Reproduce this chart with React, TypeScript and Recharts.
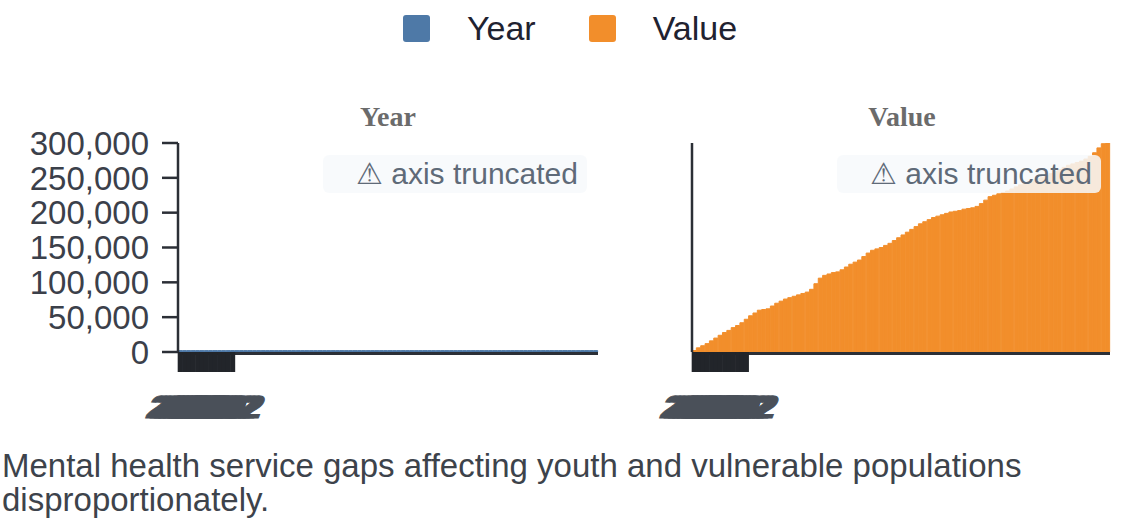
import React from "react";
import { BarChart, Bar, XAxis, YAxis } from "recharts";

// quarterly observations, one entry per bar
const years = [
  2000, 2000, 2000, 2000, 2001, 2001, 2001, 2001, 2002, 2002, 2002, 2002,
  2003, 2003, 2003, 2003, 2004, 2004, 2004, 2004, 2005, 2005, 2005, 2005,
  2006, 2006, 2006, 2006, 2007, 2007, 2007, 2007, 2008, 2008, 2008, 2008,
  2009, 2009, 2009, 2009, 2010, 2010, 2010, 2010, 2011, 2011, 2011, 2011,
  2012, 2012, 2012, 2012, 2013, 2013, 2013, 2013, 2014, 2014, 2014, 2014,
  2015, 2015, 2015, 2015, 2016, 2016, 2016, 2016, 2017, 2017, 2017, 2017,
  2018, 2018, 2018, 2018, 2019, 2019, 2019, 2019, 2020, 2020, 2020, 2020,
  2021, 2021, 2021, 2021, 2022, 2022, 2022, 2022, 2023, 2023, 2023, 2023,
];

const values = [
  2000, 6000, 9000, 12000, 16000, 20000, 24000, 28000, 31000, 35000, 38000, 42000,
  47000, 52000, 56000, 60000, 61000, 62000, 66000, 70000, 73000, 76000, 78000, 80000,
  82000, 84000, 86000, 90000, 98000, 106000, 110000, 112000, 114000, 115000, 118000, 122000,
  126000, 129000, 132000, 137000, 142000, 146000, 148000, 150000, 153000, 156000, 160000, 164000,
  168000, 172000, 176000, 180000, 184000, 187000, 190000, 193000, 195000, 197000, 199000, 201000,
  202000, 203000, 205000, 206000, 207000, 209000, 213000, 218000, 223000, 225000, 227000, 229000,
  231000, 234000, 237000, 240000, 242000, 244000, 247000, 249000, 251000, 253000, 256000, 259000,
  262000, 265000, 268000, 270000, 272000, 274000, 277000, 281000, 286000, 293000, 299000, 306000,
];

const yTicks = [0, 50000, 100000, 150000, 200000, 250000, 300000];
const yMax = 300000;

const seriesNames = ["Year", "Value"];
const seriesColors = ["#4e79a7", "#f28e2b"];

const caption =
  "Mental health service gaps affecting youth and vulnerable populations disproportionately.";

const data = years.map((y, i) => ({ idx: i, Year: y, Value: values[i] }));

const SANS = '"Liberation Sans", Arial, sans-serif';
const SERIF = '"Liberation Serif", "Times New Roman", serif';
const AXIS = "#2b2f36";

// the crowded category ticks pile up on each other near the origin
const CrowdedTick = (props: any) => {
  const { x, y, index } = props;
  if (index > 12) return null;
  return (
    <g>
      <line x1={x} y1={y} x2={x} y2={y + 20} stroke="#22252a" strokeWidth={5} />
      {index <= 10 && (
        <text
          transform={`translate(${x},${y + 66}) skewX(-20)`}
          textAnchor="middle"
          fontSize={32}
          fontWeight="bold"
          fontFamily={SANS}
          fill="#4a5059"
          stroke="#4a5059"
          strokeWidth={1}
        >
          {years[index]}
        </text>
      )}
    </g>
  );
};

const Badge = ({ left }: { left: number }) => (
  <div
    style={{
      position: "absolute",
      left,
      top: 155,
      width: 264,
      height: 38,
      boxSizing: "border-box",
      paddingRight: 9,
      borderRadius: 6,
      background: "rgba(247,249,251,0.85)",
      color: "#5f6a78",
      fontFamily: SANS,
      fontSize: 30,
      lineHeight: "38px",
      textAlign: "right",
      whiteSpace: "nowrap",
    }}
  >
    ⚠ axis truncated
  </div>
);

const Title = ({ text, center }: { text: string; center: number }) => (
  <div
    style={{
      position: "absolute",
      left: center - 100,
      width: 200,
      top: 103,
      textAlign: "center",
      fontFamily: SERIF,
      fontWeight: "bold",
      fontSize: 28,
      lineHeight: "28px",
      color: "#6b6b6b",
    }}
  >
    {text}
  </div>
);

const Panel = ({ series, color, left, width, yWidth, showTicks }: any) => (
  <div style={{ position: "absolute", left, top: 0 }}>
    <BarChart
      width={width}
      height={440}
      data={data}
      margin={{ top: 143, right: 10, left: 0, bottom: 18 }}
      barCategoryGap={0}
      barGap={0}
    >
      <XAxis
        dataKey="idx"
        height={70}
        interval={0}
        tickLine={false}
        tickSize={0}
        tickMargin={0}
        axisLine={{ stroke: AXIS, strokeWidth: 3, transform: "translate(0,1.5)" }}
        tick={<CrowdedTick />}
      />
      <YAxis
        width={yWidth}
        domain={[0, yMax]}
        ticks={yTicks}
        interval={0}
        allowDataOverflow
        tickSize={showTicks ? 16 : 0}
        tickMargin={13}
        tick={showTicks ? { fontSize: 33, fill: "#3b404a", fontFamily: SANS } : false}
        tickLine={showTicks ? { stroke: AXIS, strokeWidth: 2.5 } : false}
        axisLine={{ stroke: AXIS, strokeWidth: 2.5 }}
        tickFormatter={(v: number) => v.toLocaleString("en-US")}
      />
      <Bar
        dataKey={series}
        fill={color}
        stroke={color}
        strokeWidth={1}
        isAnimationActive={false}
      />
    </BarChart>
  </div>
);

export default function App() {
  return (
    <div
      style={{
        position: "absolute",
        left: 0,
        top: 0,
        width: 1140,
        height: 528,
        background: "#fff",
        overflow: "hidden",
      }}
    >
      {/* legend */}
      <div
        style={{
          position: "absolute",
          top: 8,
          left: 0,
          width: 1140,
          display: "flex",
          justifyContent: "center",
          alignItems: "center",
          gap: 53,
          fontFamily: SANS,
          fontSize: 34,
          color: "#1f2230",
          lineHeight: "40px",
        }}
      >
        {seriesNames.map((name, i) => (
          <div key={name} style={{ display: "flex", alignItems: "center" }}>
            <span
              style={{
                display: "inline-block",
                width: 27,
                height: 27,
                borderRadius: 3,
                background: seriesColors[i],
                marginRight: 37,
              }}
            />
            <span>{name}</span>
          </div>
        ))}
      </div>

      <Title text={seriesNames[0]} center={388} />
      <Title text={seriesNames[1]} center={902} />

      <Panel series="Year" color={seriesColors[0]} left={0} width={608} yWidth={178} showTicks />
      <Panel series="Value" color={seriesColors[1]} left={620} width={500} yWidth={72} showTicks={false} />

      <Badge left={323} />
      <Badge left={837} />

      <div
        style={{
          position: "absolute",
          left: 2,
          top: 449,
          width: 1100,
          fontFamily: SANS,
          fontSize: 33,
          lineHeight: "34px",
          color: "#3d434b",
        }}
      >
        {caption}
      </div>
    </div>
  );
}
